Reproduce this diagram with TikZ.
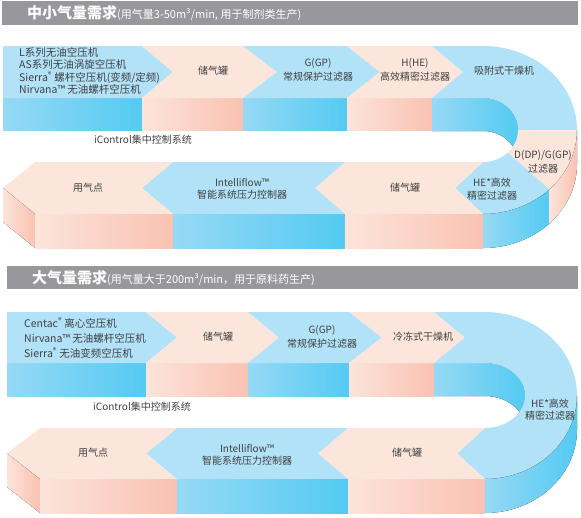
\documentclass[tikz,border=0pt]{standalone}
\usepackage{fontspec}
\setmainfont{Noto Sans CJK SC}

\definecolor{bluetop}{RGB}{178,226,247}
\definecolor{peachtop}{RGB}{252,230,220}
\definecolor{bluelt}{RGB}{150,217,245}
\definecolor{bluedk}{RGB}{84,202,242}
\definecolor{peachlt}{RGB}{252,228,218}
\definecolor{peachdk}{RGB}{249,194,178}
\definecolor{headgray}{RGB}{152,152,156}
\definecolor{txtgray}{RGB}{64,64,64}

\tikzset{
  bluefront/.style={left color=bluelt, right color=bluedk},
  peachfront/.style={left color=peachlt, right color=peachdk},
  lbl/.style={text=txtgray, inner sep=0pt, align=center, font=\fontsize{10}{14}\selectfont},
  lbltight/.style={lbl, font=\fontsize{10}{12.5}\selectfont},
  srclist/.style={text=txtgray, inner sep=0pt, align=left, anchor=west},
  headtxt/.style={text=white, inner sep=0pt, anchor=west, font=\fontsize{11}{12}\selectfont}
}

\begin{document}
\begin{tikzpicture}[x=1pt,y=-1pt,samples=40]
\useasboundingbox (0,0) rectangle (581,517);

\fill[headgray] (2,1) rectangle (578,25);
\node[headtxt] (headA) at (27,13) {{\fontsize{15}{15}\selectfont\bfseries 中小气量需求}(用气量3-50m³/min, 用于制剂类生产)};

\fill[bluefront] (3,98) rectangle (142,130);
\fill[peachfront] (142,98) rectangle (243,130);
\fill[bluefront] (243,98) rectangle (347,130);
\fill[peachfront] (347,98) rectangle (432,130);
\fill[bluefront] (432,98) -- plot[domain=-90:0] ({483+35*cos(\x)},{130+32*sin(\x)})
  -- plot[domain=0:-90] ({483+35*cos(\x)},{163+32*sin(\x)}) -- (432,131) -- cycle;

\fill[bluetop] (3,46) -- (142,46) -- (173,72) -- (142,98) -- (3,98) -- cycle;
\fill[peachtop] (142,46) -- (243,46) -- (277,72) -- (243,98) -- (142,98) -- (173,72) -- cycle;
\fill[bluetop] (243,46) -- (347,46) -- (380,72) -- (347,98) -- (243,98) -- (277,72) -- cycle;
\fill[peachtop] (347,46) -- (432,46) -- (463,72) -- (432,98) -- (347,98) -- (380,72) -- cycle;
\fill[bluetop] (432,46) -- plot[domain=-90:0] ({483+94*cos(\x)},{130+84*sin(\x)})
  -- plot[domain=0:-90] ({483+35*cos(\x)},{130+32*sin(\x)}) -- (432,98) -- (463,72) -- cycle;
\fill[peachtop] plot[domain=0:45] ({483+94*cos(\x)},{130+84*sin(\x)})
  -- plot[domain=45:0] ({483+35*cos(\x)},{130+32*sin(\x)}) -- cycle;
\fill[bluetop] plot[domain=45:90] ({483+94*cos(\x)},{130+84*sin(\x)}) -- (455,188)
  -- plot[domain=90:45] ({483+35*cos(\x)},{130+32*sin(\x)}) -- cycle;
\fill[peachtop] (345,162) -- (483,162) -- (455,188) -- (483,214) -- (345,214) -- (315,188) -- cycle;
\fill[bluetop] (173,162) -- (345,162) -- (315,188) -- (345,214) -- (173,214) -- (142,188) -- cycle;
\fill[peachtop] (35,162) -- (173,162) -- (142,188) -- (173,214) -- (35,214) -- (3,188) -- cycle;

\fill[peachfront] (3,188) -- (35,214) -- (35,248) -- (3,222) -- cycle;
\fill[peachfront] (35,214) rectangle (173,248);
\fill[bluefront] (173,214) rectangle (345,248);
\fill[peachfront] (345,214) rectangle (483,248);
\fill[bluefront] plot[domain=90:45] ({483+94*cos(\x)},{130+84*sin(\x)})
  -- plot[domain=45:90] ({483+94*cos(\x)},{164+84*sin(\x)}) -- cycle;
\fill[peachfront] plot[domain=45:0] ({483+94*cos(\x)},{130+84*sin(\x)})
  -- plot[domain=0:45] ({483+94*cos(\x)},{164+84*sin(\x)}) -- cycle;

\node[srclist, font=\fontsize{10.5}{12.3}\selectfont] (srcA) at (19,71) {L系列无油空压机\\AS系列无油涡旋空压机\\Sierra\textsuperscript{®} 螺杆空压机(变频/定频)\\Nirvana™ 无油螺杆空压机};
\node[lbl] (tankA) at (213,71) {储气罐};
\node[lbl] (gpA) at (318,69.5) {G(GP)\\常规保护过滤器};
\node[lbl] (hheA) at (415,70) {H(HE)\\高效精密过滤器};
\node[lbl] (dryA) at (504,71) {吸附式干燥机};
\node[lbl] (ctrlA) at (143,140) {iControl集中控制系统};
\node[lbl] (useA) at (88,188) {用气点};
\node[lbltight] (flowA) at (242,189) {Intelliflow™\\智能系统压力控制器};
\node[lbl] (tankAA) at (405,188) {储气罐};
\node[lbltight] (heA) at (492,189) {HE*高效\\精密过滤器};
\node[lbl] (ddpA) at (543,162) {D(DP)/G(GP)\\过滤器};

\fill[headgray] (7,266) rectangle (578,289);
\node[headtxt] (headB) at (32,278) {{\fontsize{15}{15}\selectfont\bfseries 大气量需求}(用气量大于200m³/min，用于原料药生产)};

\fill[bluefront] (7,363) rectangle (146,396);
\fill[peachfront] (146,363) rectangle (248,396);
\fill[bluefront] (248,363) rectangle (349,396);
\fill[peachfront] (349,363) rectangle (434,396);
\fill[bluefront] (434,363) -- plot[domain=-90:0] ({485+40*cos(\x)},{395.5+32.5*sin(\x)})
  -- plot[domain=0:-90] ({485+40*cos(\x)},{428.5+32.5*sin(\x)}) -- (434,396) -- cycle;

\fill[bluetop] (7,312) -- (146,312) -- (177,337.5) -- (146,363) -- (7,363) -- cycle;
\fill[peachtop] (146,312) -- (248,312) -- (279,337.5) -- (248,363) -- (146,363) -- (177,337.5) -- cycle;
\fill[bluetop] (248,312) -- (349,312) -- (382,337.5) -- (349,363) -- (248,363) -- (279,337.5) -- cycle;
\fill[peachtop] (349,312) -- (434,312) -- (465,337.5) -- (434,363) -- (349,363) -- (382,337.5) -- cycle;
\fill[bluetop] (434,312) -- plot[domain=-90:90] ({485+92*cos(\x)},{395.5+83.5*sin(\x)}) -- (457,453.5)
  -- plot[domain=90:-90] ({485+40*cos(\x)},{395.5+32.5*sin(\x)}) -- (434,363) -- (465,337.5) -- cycle;
\fill[peachtop] (348,428) -- (485,428) -- (457,453.5) -- (485,479) -- (348,479) -- (318,453.5) -- cycle;
\fill[bluetop] (177,428) -- (348,428) -- (318,453.5) -- (348,479) -- (177,479) -- (146,453.5) -- cycle;
\fill[peachtop] (40,428) -- (177,428) -- (146,453.5) -- (177,479) -- (40,479) -- (7,453.5) -- cycle;

\fill[peachfront] (7,453.5) -- (40,479) -- (40,513) -- (7,487) -- cycle;
\fill[peachfront] (40,479) rectangle (177,513);
\fill[bluefront] (177,479) rectangle (348,513);
\fill[peachfront] (348,479) rectangle (485,513);
\fill[bluefront] plot[domain=90:0] ({485+92*cos(\x)},{395.5+83.5*sin(\x)})
  -- plot[domain=0:90] ({485+92*cos(\x)},{429.5+83.5*sin(\x)}) -- cycle;

\node[srclist, font=\fontsize{10.5}{15}\selectfont] (srcB) at (24,338) {Centac\textsuperscript{®} 离心空压机\\Nirvana™ 无油螺杆空压机\\Sierra\textsuperscript{®} 无油变频空压机};
\node[lbl] (tankB) at (218,337) {储气罐};
\node[lbl] (gpB) at (322,337) {G(GP)\\常规保护过滤器};
\node[lbl] (dryB) at (423,337) {冷冻式干燥机};
\node[lbl] (ctrlB) at (142,407) {iControl集中控制系统};
\node[lbl] (useB) at (93,453) {用气点};
\node[lbltight] (flowB) at (247,455) {Intelliflow™\\智能系统压力控制器};
\node[lbl] (tankBB) at (407,453) {储气罐};
\node[lbltight] (heB) at (550,409.5) {HE*高效\\精密过滤器};
\end{tikzpicture}
\end{document}
